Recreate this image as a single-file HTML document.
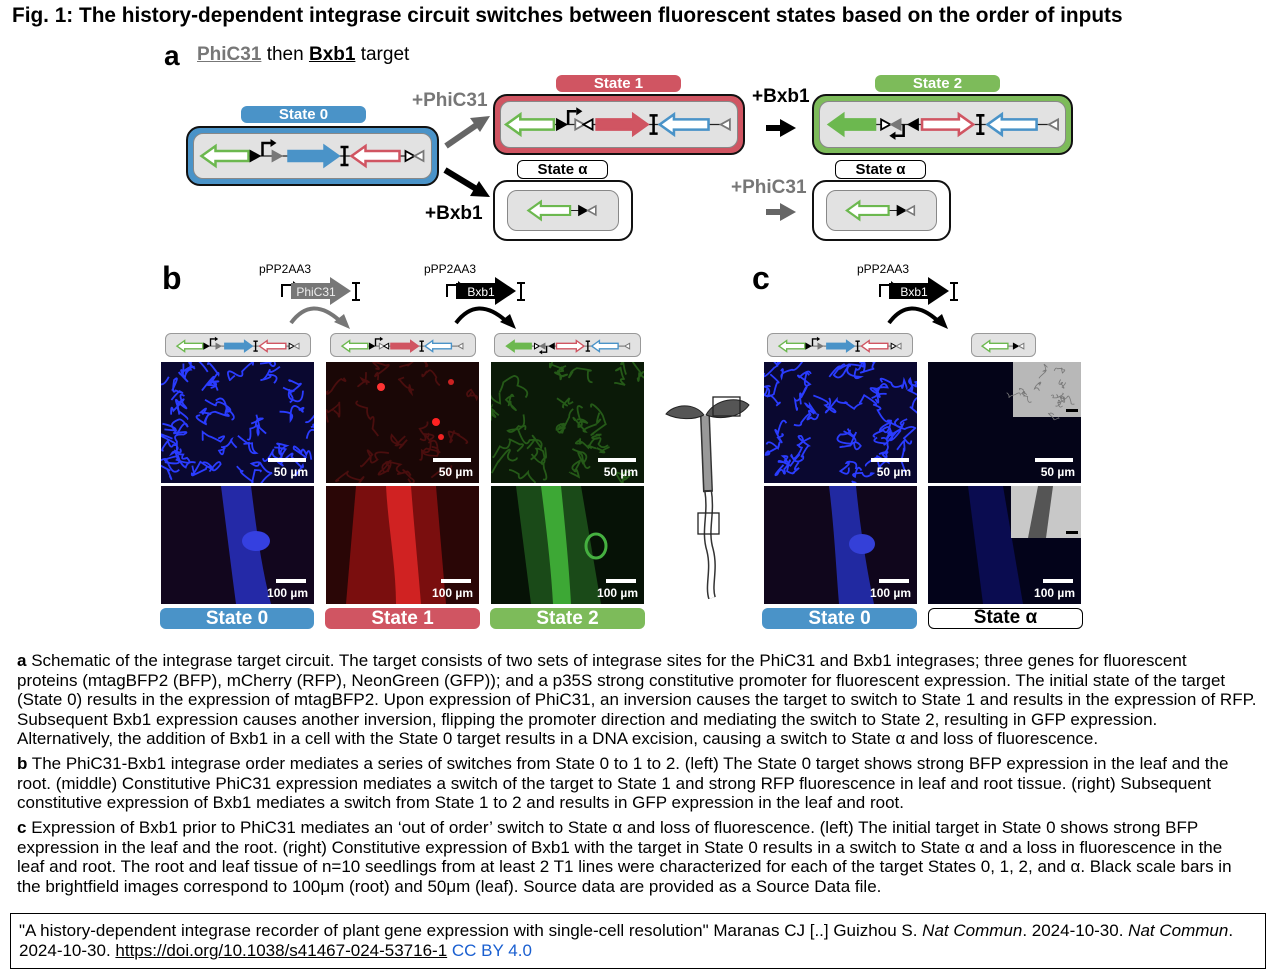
<!DOCTYPE html>
<html><head><meta charset="utf-8">
<style>
body{margin:0;width:1280px;height:977px;background:#fff;position:relative;overflow:hidden;font-family:"Liberation Sans",Arial,sans-serif;color:#000}
.a{position:absolute}
.pill{position:absolute;border-radius:6px;color:#fff;font-weight:bold;text-align:center;font-size:15px;line-height:17px}
.pillw{background:#fff;color:#000;border:1.5px solid #000;box-sizing:border-box}
.box{position:absolute;box-sizing:border-box;border:2px solid #111;border-radius:14px}
.inner{position:absolute;left:5px;right:5px;top:5px;bottom:5px;background:#e2e2e2;border:1.5px solid #888;border-radius:10px}
.strip{position:absolute;background:#e2e2e2;border:1.5px solid #999;border-radius:6px;box-sizing:border-box}
.img{position:absolute;overflow:hidden}
.sb{position:absolute;right:6px;bottom:4px;color:#fff;font-weight:bold;font-size:12px;text-align:right}
.sb i{display:block;background:#fff;height:4px;margin:0 2px 3px auto}
.lab{position:absolute;height:21px;border-radius:6px;color:#fff;font-weight:bold;font-size:19px;line-height:21px;text-align:center}
.cap{position:absolute;left:17px;width:1260px;font-size:17px;line-height:19.6px;white-space:nowrap}
.plus{position:absolute;font-weight:bold;font-size:19px}
</style></head><body>
<div class="a" style="left:12px;top:4px;font-size:20.8px;font-weight:bold;white-space:nowrap">Fig. 1: The history-dependent integrase circuit switches between fluorescent states based on the order of inputs</div>
<div class="a" style="left:164px;top:40px;font-size:28px;font-weight:bold">a</div>
<div class="a" style="left:197px;top:44px;font-size:19px"><b style="color:#777;text-decoration:underline">PhiC31</b> then <b style="text-decoration:underline">Bxb1</b> target</div>

<div class="pill" style="left:241px;top:106px;width:125px;background:#4a93c8">State 0</div>
<div class="box" style="left:186px;top:126px;width:253px;height:60px;background:#4a93c8"><div class="inner"><svg id="s0" width="100%" height="100%"></svg></div></div>
<div class="pill" style="left:556px;top:75px;width:125px;background:#d05562">State 1</div>
<div class="box" style="left:493px;top:94px;width:252px;height:61px;background:#d05562"><div class="inner"><svg id="s1" width="100%" height="100%"></svg></div></div>
<div class="pill pillw" style="left:517px;top:160px;width:91px">State α</div>
<div class="box" style="left:493px;top:180px;width:140px;height:61px;background:#fff"><div class="inner" style="left:12px;right:12px;top:8px;bottom:8px"><svg id="sa1" width="100%" height="100%"></svg></div></div>
<div class="pill" style="left:875px;top:75px;width:125px;background:#7dbb5a">State 2</div>
<div class="box" style="left:812px;top:94px;width:261px;height:61px;background:#7dbb5a"><div class="inner"><svg id="s2" width="100%" height="100%"></svg></div></div>
<div class="pill pillw" style="left:835px;top:160px;width:91px">State α</div>
<div class="box" style="left:812px;top:180px;width:139px;height:61px;background:#fff"><div class="inner" style="left:12px;right:12px;top:8px;bottom:8px"><svg id="sa2" width="100%" height="100%"></svg></div></div>
<div class="plus" style="left:412px;top:90px;color:#777">+PhiC31</div>
<div class="plus" style="left:425px;top:203px">+Bxb1</div>
<div class="plus" style="left:752px;top:86px">+Bxb1</div>
<div class="plus" style="left:731px;top:177px;color:#777">+PhiC31</div>
<svg class="a" style="left:0;top:0" width="1280" height="260">
<g stroke-width="6"><line x1="446" y1="146" x2="478" y2="124" stroke="#666"/><line x1="445" y1="170" x2="478" y2="190" stroke="#000"/>
<line x1="766" y1="128" x2="782" y2="128" stroke="#000"/><line x1="766" y1="212" x2="782" y2="212" stroke="#666"/></g>
<polygon points="490,116 470,118 480,132" fill="#666"/><polygon points="490,197 470,196 479,181" fill="#000"/>
<polygon points="796,128 780,119 780,137" fill="#000"/><polygon points="796,212 780,203 780,221" fill="#666"/>
</svg>

<div class="a" style="left:162px;top:260px;font-size:32px;font-weight:bold">b</div>
<div class="a" style="left:752px;top:260px;font-size:32px;font-weight:bold">c</div>
<svg class="a" style="left:0;top:255px" width="1280" height="80" font-family="Liberation Sans,Arial,sans-serif">
<g id="cons"></g>
</svg>
<div class="strip" style="left:165px;top:333px;width:146px;height:24px"><svg id="b0" width="100%" height="100%"></svg></div>
<div class="strip" style="left:330px;top:333px;width:146px;height:24px"><svg id="b1" width="100%" height="100%"></svg></div>
<div class="strip" style="left:494px;top:333px;width:147px;height:24px"><svg id="b2" width="100%" height="100%"></svg></div>
<div class="strip" style="left:767px;top:333px;width:146px;height:24px"><svg id="c0" width="100%" height="100%"></svg></div>
<div class="strip" style="left:971px;top:333px;width:65px;height:24px"><svg id="ca" width="100%" height="100%"></svg></div>

<div id="imgs"></div>

<div class="lab" style="left:160px;top:608px;width:154px;background:#4a93c8">State 0</div>
<div class="lab" style="left:325px;top:608px;width:155px;background:#d05562">State 1</div>
<div class="lab" style="left:490px;top:608px;width:155px;background:#7dbb5a">State 2</div>
<div class="lab" style="left:762px;top:608px;width:155px;background:#4a93c8">State 0</div>
<div class="lab" style="left:928px;top:608px;width:155px;background:#fff;color:#000;border:1.5px solid #000;box-sizing:border-box;line-height:18px">State α</div>

<svg class="a" style="left:660px;top:390px" width="90" height="215">
<path d="M48 100 C52 125 44 140 50 160 C55 180 48 195 52 208" stroke="#333" stroke-width="8" fill="none"/>
<path d="M48 100 C52 125 44 140 50 160 C55 180 48 195 52 208" stroke="#fff" stroke-width="5" fill="none"/>
<path d="M45 26 L48 102" stroke="#333" stroke-width="10"/><path d="M45 26 L48 100" stroke="#999" stroke-width="7"/>
<path d="M44 25 C34 12 14 14 6 24 C18 30 34 30 44 25Z" fill="#555" stroke="#222"/>
<path d="M46 25 C55 8 80 6 89 15 C80 28 60 30 46 25Z" fill="#555" stroke="#222"/>
<rect x="53" y="7" width="27" height="19" fill="none" stroke="#222" stroke-width="1.3"/>
<rect x="38" y="123" width="21" height="21" fill="none" stroke="#222" stroke-width="1.3"/>
</svg>

<div class="cap" style="top:651px"><b>a</b> Schematic of the integrase target circuit. The target consists of two sets of integrase sites for the PhiC31 and Bxb1 integrases; three genes for fluorescent<br>proteins (mtagBFP2 (BFP), mCherry (RFP), NeonGreen (GFP)); and a p35S strong constitutive promoter for fluorescent expression. The initial state of the target<br>(State 0) results in the expression of mtagBFP2. Upon expression of PhiC31, an inversion causes the target to switch to State 1 and results in the expression of RFP.<br>Subsequent Bxb1 expression causes another inversion, flipping the promoter direction and mediating the switch to State 2, resulting in GFP expression.<br>Alternatively, the addition of Bxb1 in a cell with the State 0 target results in a DNA excision, causing a switch to State α and loss of fluorescence.</div>
<div class="cap" style="top:754px"><b>b</b> The PhiC31-Bxb1 integrase order mediates a series of switches from State 0 to 1 to 2. (left) The State 0 target shows strong BFP expression in the leaf and the<br>root. (middle) Constitutive PhiC31 expression mediates a switch of the target to State 1 and strong RFP fluorescence in leaf and root tissue. (right) Subsequent<br>constitutive expression of Bxb1 mediates a switch from State 1 to 2 and results in GFP expression in the leaf and root.</div>
<div class="cap" style="top:818px"><b>c</b> Expression of Bxb1 prior to PhiC31 mediates an ‘out of order’ switch to State α and loss of fluorescence. (left) The initial target in State 0 shows strong BFP<br>expression in the leaf and the root. (right) Constitutive expression of Bxb1 with the target in State 0 results in a switch to State α and a loss in fluorescence in the<br>leaf and root. The root and leaf tissue of n=10 seedlings from at least 2 T1 lines were characterized for each of the target States 0, 1, 2, and α. Black scale bars in<br>the brightfield images correspond to 100μm (root) and 50μm (leaf). Source data are provided as a Source Data file.</div>
<div class="a" style="left:10px;top:913px;width:1256px;height:56px;border:1px solid #000;box-sizing:border-box;padding:7px 8px;font-size:17px;line-height:20px;white-space:nowrap">"A history-dependent integrase recorder of plant gene expression with single-cell resolution" Maranas CJ [..] Guizhou S. <i>Nat Commun</i>. 2024-10-30. <i>Nat Commun</i>.<br>2024-10-30. <u>https://doi.org/10.1038/s41467-024-53716-1</u> <span style="color:#1a5fd0">CC BY 4.0</span></div>

<script>
const G='#6cb84f',R='#d05562',B='#4a93c8',K='#000',Y='#777';
function arrow(x1,x2,dir,c,filled,cy){const h1=5,h2=10,hl=14;let p;
 if(dir>0)p=[[x1,cy-h1],[x2-hl,cy-h1],[x2-hl,cy-h2],[x2,cy],[x2-hl,cy+h2],[x2-hl,cy+h1],[x1,cy+h1]];
 else p=[[x2,cy-h1],[x1+hl,cy-h1],[x1+hl,cy-h2],[x1,cy],[x1+hl,cy+h2],[x1+hl,cy+h1],[x2,cy+h1]];
 return `<polygon points="${p.map(q=>q.join(',')).join(' ')}" fill="${filled?c:'#fff'}" stroke="${c}" stroke-width="2.5"/>`}
function tri(x,dir,c,filled,cy){const s=9;const p=dir>0?`${x},${cy-5} ${x+s},${cy} ${x},${cy+5}`:`${x+s},${cy-5} ${x},${cy} ${x+s},${cy+5}`;
 return `<polygon points="${p}" fill="${filled?c:'#fff'}" stroke="${c}" stroke-width="1.8"/>`}
function prom(x,dir,c,cy){if(dir>0)return `<path d="M${x} ${cy} V${cy-13} H${x+8}" stroke="${c}" stroke-width="2.5" fill="none"/><polygon points="${x+8},${cy-17} ${x+14},${cy-13} ${x+8},${cy-9}" fill="${c}"/>`;
 return `<path d="M${x} ${cy} V${cy+11} H${x-8}" stroke="${c}" stroke-width="2.5" fill="none"/><polygon points="${x-8},${cy+7} ${x-14},${cy+11} ${x-8},${cy+15}" fill="${c}"/>`}
function term(x,cy){return `<path d="M${x} ${cy-9} V${cy+9} M${x-4} ${cy-9} H${x+4} M${x-4} ${cy+9} H${x+4}" stroke="#000" stroke-width="2.5"/>`}
function build(items,W){const cy=22;let s=`<line x1="8" y1="${cy}" x2="${W-8}" y2="${cy}" stroke="#222" stroke-width="1.2"/>`;
 for(const it of items){const [t,...a]=it;
  if(t=='oa')s+=arrow(a[0],a[1],a[2],a[3],0,cy);if(t=='fa')s+=arrow(a[0],a[1],a[2],a[3],1,cy);
  if(t=='tri')s+=tri(a[0],a[1],a[2],a[3],cy);if(t=='prom')s+=prom(a[0],a[1],a[2],cy);if(t=='term')s+=term(a[0],cy);}
 return s}
const S0=[['oa',5,52,-1,G],['tri',54,1,K,1],['prom',66,1,K],['tri',76,1,Y,1],['fa',92,142,1,B],['term',148],['oa',155,203,-1,R],['tri',209,1,K,0],['tri',218,-1,Y,0]];
const S1=[['oa',5,52,-1,G],['tri',55,1,K,1],['prom',66,1,K],['tri',73,1,Y,0],['tri',81,-1,K,0],['fa',94,144,1,R],['term',150],['oa',156,204,-1,B],['tri',216,-1,Y,0]];
const S2=[['fa',5,50,-1,G],['tri',56,1,K,0],['tri',66,-1,Y,1],['prom',78,-1,K],['tri',83,-1,K,1],['oa',96,146,1,R],['term',153],['oa',160,208,-1,B],['tri',220,-1,Y,0]];
const SA=[['oa',5,52,-1,G],['tri',62,1,K,1],['tri',72,-1,Y,0]];
function put(id,items,W,H){const e=document.getElementById(id);e.setAttribute('viewBox',`0 0 ${W} ${H}`);e.setAttribute('preserveAspectRatio','xMidYMid meet');e.innerHTML=build(items,W)}
put('s0',S0,232,44);put('s1',S1,232,44);put('s2',S2,232,44);put('sa1',SA,88,44);put('sa2',SA,88,44);
put('b0',S0,232,40);put('b1',S1,232,40);put('b2',S2,232,40);put('c0',S0,232,40);put('ca',SA,88,40);
let c='';
function cons(x,label,col,tcol){c+=`<text x="${x-26}" y="18" font-size="12">pPP2AA3</text><path d="M${x-3} 42 V30 H${x+8}" stroke="#000" stroke-width="2" fill="none"/><polygon points="${x+8},26 ${x+13},30 ${x+8},34" fill="#000"/>
<polygon points="${x+6},28 ${x+45},28 ${x+45},22 ${x+66},36 ${x+45},50 ${x+45},44 ${x+6},44" fill="${col}"/><text x="${x+31}" y="41" font-size="12" fill="${tcol}" text-anchor="middle">${label}</text>
<path d="M${x+71} 28 V45 M${x+67} 28 H${x+75} M${x+67} 45 H${x+75}" stroke="#000" stroke-width="2"/>`}
cons(285,'PhiC31','#777','#eee');cons(450,'Bxb1','#000','#fff');cons(883,'Bxb1','#000','#fff');
function curve(x1,x2,col){c+=`<path d="M${x1} 68 Q${(x1+x2)/2-8} 40 ${x2-8} 66" stroke="${col}" stroke-width="4" fill="none"/><polygon points="${x2+2},74 ${x2-14},67 ${x2-4},59" fill="${col}"/>`}
curve(291,348,'#777');curve(456,514,'#000');curve(889,946,'#000');
document.getElementById('cons').innerHTML=c;
function squig(col,n,seed,sw){let s='';let r=seed;const rnd=()=>{r=(r*9301+49297)%233280;return r/233280};
 for(let i=0;i<n;i++){let x=rnd()*150,y=rnd()*120;let d=`M${x} ${y}`;for(let j=0;j<4;j++){d+=` q${rnd()*20-10} ${rnd()*20-10} ${rnd()*24-12} ${rnd()*24-12}`}s+=`<path d="${d}" stroke="${col}" stroke-width="${sw||1.8}" fill="none"/>`}return s}
const imgs=[
 [161,362,153,121,'#0a0830',squig('#2a3cff',40,3),'50 µm',38],
 [326,362,153,121,'#1a0706',squig('#4a0e0e',20,5)+'<circle cx="55" cy="25" r="4" fill="#f33"/><circle cx="110" cy="60" r="4" fill="#f22"/><circle cx="115" cy="75" r="3" fill="#e22"/><circle cx="125" cy="20" r="3" fill="#c22"/>','50 µm',38],
 [491,362,153,121,'#0b1a08',squig('#255a18',30,7),'50 µm',38],
 [161,486,153,118,'#12061e','<path d="M60 0 C65 40 70 80 75 118 L110 118 C100 80 95 40 90 0Z" fill="#2830c0" opacity=".85"/><ellipse cx="95" cy="55" rx="14" ry="10" fill="#3540e0"/>','100 µm',30],
 [326,486,153,118,'#2a0606','<path d="M30 0 L20 118 L120 118 L110 0Z" fill="#7a0e0e"/><path d="M60 0 C62 40 70 80 70 118 L95 118 C92 80 88 40 85 0Z" fill="#d02222"/>','100 µm',30],
 [491,486,153,118,'#061206','<path d="M25 0 L40 118 L110 118 L90 0Z" fill="#1a4a18"/><path d="M50 0 C55 40 60 80 62 118 L80 118 C78 80 74 40 70 0Z" fill="#3da835"/><ellipse cx="105" cy="60" rx="10" ry="12" fill="none" stroke="#45b040" stroke-width="3"/>','100 µm',30],
 [764,362,153,121,'#0a0830',squig('#2a3cff',40,11),'50 µm',38],
 [928,362,153,121,'#040418','<rect x="85" y="0" width="68" height="55" fill="#b8b8b8"/>'+squig('#777',12,13).replace(/<path/g,'<path transform="translate(85,0) scale(.45)"')+'<rect x="138" y="47" width="12" height="3" fill="#000"/>','50 µm',38],
 [764,486,153,118,'#10061c','<path d="M65 0 C70 40 72 80 75 118 L110 118 C102 80 96 40 92 0Z" fill="#2430b8" opacity=".85"/><ellipse cx="98" cy="58" rx="13" ry="10" fill="#3440d8"/>','100 µm',30],
 [928,486,153,118,'#03031a','<path d="M40 0 L55 118 L95 118 L75 0Z" fill="#0a0c50"/><rect x="83" y="0" width="70" height="52" fill="#c8c8c8"/><path d="M110 0 L100 52 L118 52 L125 0Z" fill="#555"/><rect x="138" y="45" width="12" height="3" fill="#000"/>','100 µm',30]];
let h='';for(const [x,y,w,hh,bg,inner,lbl,bw] of imgs){h+=`<div class="img" style="left:${x}px;top:${y}px;width:${w}px;height:${hh}px;background:${bg}"><svg width="${w}" height="${hh}" style="position:absolute;left:0;top:0">${inner}</svg><div class="sb"><i style="width:${bw}px"></i>${lbl}</div></div>`}
document.getElementById('imgs').innerHTML=h;
</script>
</body></html>
